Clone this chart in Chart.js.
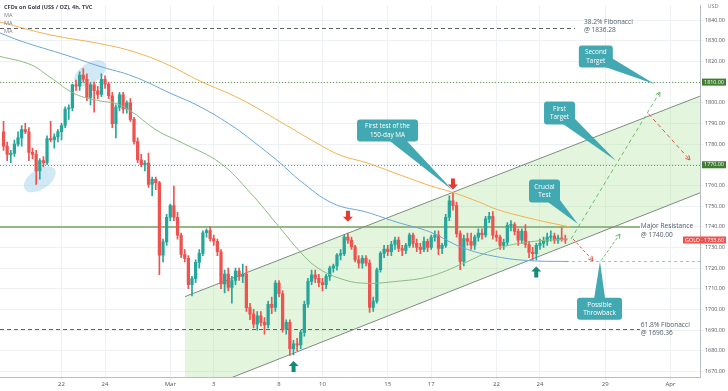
<!DOCTYPE html>
<html>
<head>
<meta charset="utf-8">
<script src="https://cdn.jsdelivr.net/npm/chart.js@4.4.0/dist/chart.umd.min.js"></script>
<style>
  html, body { margin: 0; padding: 0; background: #fff; }
  #wrap { width: 728px; height: 391px; }
</style>
</head>
<body>
<div id="wrap"><canvas id="chart" width="728" height="391"></canvas></div>
<script>
// x axis = trading days counted from Feb 22 (weekends skipped), 6 bars of 4h per day
const tickDays = [0, 2, 5, 7, 10, 12, 15, 17, 20, 22, 25, 28];
const tickLabels = ['22', '24', 'Mar', '3', '8', '10', '15', '17', '22', '24', '29', 'Apr'];
const priceTicks = [1670, 1680, 1690, 1700, 1710, 1720, 1730, 1740, 1750, 1760, 1770, 1780, 1790, 1800, 1810, 1820, 1830, 1840];
const xMin = -2.83, xMax = 29.36;
const yMin = 1667.3, yMax = 1847.2;

// 4h candles, first bar on Feb 17
const firstDay = -2.667;
const opens = [1786,1779,1775,1775.5,1780,1783,1787,1786,1776,1775,1767,1772,1771,1782.7,1782,1783.5,1786,1789,1797,1797.5,
  1808.7,1808,1813.4,1811.4,1802.6,1808.7,1805.8,1804,1811.4,1809,1803.4,1789.9,1797.9,1803.9,1797,1800,1792,1781.2,1772.4,1770,
  1770.8,1760.5,1762.9,1761.3,1726.3,1732.7,1744.6,1750.2,1744.6,1735.9,1726.6,1724.7,1712,1714.9,1722.8,1727.1,1737.1,1738.2,1734.3,1733,
  1727.9,1712.3,1717.1,1710.7,1714,1718.5,1716,1717,1700.9,1697.7,1692.9,1696.9,1693.7,1692.5,1702.5,1701,1712.8,1707.6,1690.5,1693.7,
  1681,1683.4,1682.8,1688.9,1702.5,1713.6,1716.8,1715,1713,1712,1716,1720,1721,1726.3,1727,1735,1733.5,1730.3,1724,1722.4,
  1724.7,1722.4,1701,1704,1719.2,1727.1,1729.2,1728,1731.4,1733.5,1729.5,1728.5,1731,1736,1732,1730,1729,1733,1730,1735,
  1736,1729.5,1731,1744.6,1752.6,1750.2,1736.7,1723.2,1734.3,1733,1731.1,1735,1737,1736,1743.8,1745.1,1735.9,1735,1731,1732.5,
  1740.7,1741,1737.8,1733.5,1737.8,1731.4,1727.6,1727,1731,1732,1733,1735,1735.5,1733.5,1734.5,1734];
const highs = [1791,1781,1777,1782,1786,1789,1790,1788,1778,1777,1773,1774,1784,1791,1785,1787,1790,1798,1799,1809,
  1811,1815,1816.5,1814,1809.5,1810,1808,1814,1813,1810,1805,1799,1805,1805,1801,1802,1793,1783,1775,1772,
  1775.6,1764,1764,1762,1734,1746,1751,1759.7,1747,1737,1729,1726,1716,1724,1729,1738,1739,1740,1736,1734,
  1729,1719,1720,1716,1720,1720,1722,1721,1703,1700,1699,1699,1696,1704,1706,1714,1714,1709,1695,1695,
  1685,1686,1690,1704,1715,1719,1719,1717,1715,1717,1721,1722,1727,1729,1736,1737,1735,1731,1726,1726,
  1726,1724,1706,1720,1728,1731,1731,1733,1735,1735,1731,1732,1737,1737,1734,1732,1735,1734,1736,1738,
  1738,1732,1746,1755,1756.5,1752,1738,1736,1737,1737,1736,1739,1739,1745,1747,1747.3,1738,1736,1734,1742,
  1743,1742,1739,1739,1741,1733,1730,1732,1734,1735,1737,1738,1737,1736,1739.5,1736];
const lows = [1777,1772,1771,1774,1779,1779,1785,1772,1773,1760.5,1763,1769,1770,1781,1778,1781,1782,1788,1792,1796,
  1806,1806,1810,1801,1799,1795.5,1802,1803,1807,1802,1788,1783,1796,1795,1795,1791,1780,1771,1769,1767,
  1759,1755,1758,1716.8,1723,1731,1743,1743,1734,1725,1723,1710,1706.5,1713,1720,1726,1735,1733,1731,1726,
  1710,1708,1709,1703,1712,1714,1713,1699,1695,1691,1690,1692,1688,1691,1698,1699,1706,1689,1688,1677.8,
  1678,1680,1681,1687,1701,1712,1713,1711,1709,1710,1714,1718,1719,1724,1726,1732,1729,1723,1720,1720,
  1721,1698.5,1699,1703,1718,1725,1726,1726,1729,1728,1726,1727,1730,1730,1728,1727,1728,1728,1729,1733,
  1726.5,1727,1730,1743,1748,1735,1719.2,1721,1731,1729,1729,1733,1734,1735,1742,1734,1733,1729,1729,1731,
  1738,1736,1731,1732,1730,1725,1724,1724,1729,1730,1731,1733,1732,1732,1733,1732];
const closes = [1779,1775,1775.5,1780,1783,1787,1786,1776,1775,1767,1772,1771,1782.7,1782,1783.5,1786,1789,1797,1797.5,1808.7,
  1808,1813.4,1811.4,1802.6,1808.7,1805.8,1804,1811.4,1809,1803.4,1789.9,1797.9,1803.9,1797,1800,1792,1781.2,1772.4,1770,1770.8,
  1760.5,1762.9,1761.3,1726.3,1732.7,1744.6,1750.2,1744.6,1735.9,1726.6,1724.7,1712,1714.9,1722.8,1727.1,1737.1,1738.2,1734.3,1733,1727.9,
  1712.3,1717.1,1710.7,1714,1718.5,1716,1717,1700.9,1697.7,1692.9,1696.9,1693.7,1692.5,1702.5,1701,1712.8,1707.6,1690.5,1693.7,1681,
  1683.4,1682.8,1688.9,1702.5,1713.6,1716.8,1715,1713,1712,1716,1720,1721,1726.3,1727,1735,1733.5,1730.3,1724,1722.4,1724.7,
  1722.4,1701,1704,1719.2,1727.1,1729.2,1728,1731.4,1733.5,1729.5,1728.5,1731,1736,1732,1730,1729,1733,1730,1735,1736,
  1729.5,1731,1744.6,1752.6,1750.2,1736.7,1723.2,1734.3,1733,1731.1,1735,1737,1736,1743.8,1745.1,1735.9,1735,1731,1732.5,1740.7,
  1741,1737.8,1733.5,1737.8,1731.4,1727.6,1727,1731,1732,1733,1735,1735.5,1733.5,1734.5,1734,1733.6];

// moving averages
const maOrangeDays = [-2.83,-0.53,1.77,3.29,4.85,6.37,8.21,10.05,11.75,12.8,14.05,15.43,16.94,18.0,19.24,20.02,21.54,23.38];
const maOrange = [1839.1,1832.9,1828.6,1824.8,1818.6,1810.5,1801.9,1790.9,1780.4,1774.7,1770.9,1765.6,1759.9,1756.6,1751.8,1748.4,1744.1,1739.9];
const maBlueDays = [-2.83,-1.91,0.25,1.77,3.29,4.99,6.37,7.89,8.8,10.05,10.97,12.48,14.05,15.43,16.94,18.46,20.02,21.54,23.29];
const maBlue = [1833.8,1830.0,1822.9,1817.6,1812.8,1804.7,1798.1,1788.5,1781.4,1770.9,1762.3,1751.3,1747.0,1742.2,1737.5,1729.8,1725.5,1723.6,1723.2];
const maGreenDays = [-2.83,-1.45,-0.53,0.62,1.77,2.55,3.29,4.39,5.59,7.29,8.67,10.05,10.97,11.75,12.8,13.86,15.43,16.94,18.46,20.02,21.54,23.29];
const maGreen = [1822.4,1818.6,1812.4,1804.3,1800.9,1799.5,1795.2,1786.6,1780.4,1770.9,1756.6,1739.4,1727.9,1720.3,1715.0,1712.7,1713.6,1716.0,1722.2,1729.4,1732.7,1734.1];

// ascending channel
const channelDays = [5.678, 29.356];
const channelTop = [1706.2, 1803.2];
const channelBottom = [1658.1, 1756.4];

// projected paths
const pathUpDays = [23.43, 27.52], pathUp = [1734.1, 1805.2];
const pathDownDays = [26.99, 28.9], pathDown = [1794.7, 1772.3];
const pathDipDays = [23.52, 24.44], pathDip = [1734.1, 1723.6];
const pathReboundDays = [24.81, 25.68], pathRebound = [1723.6, 1736.5];

// horizontal levels
const levelPrices = [1836.28, 1810, 1770, 1740, 1690.36, 1723.2];
const levelFrom = [xMin, xMin, xMin, xMin, xMin, 23.2];
const levelTo = [23.61, xMax, xMax, 26.6, 26.6, xMax];
const levelStyle = [
  { color: '#5d636a', width: 1, dash: [4, 3] },
  { color: '#6a9c4f', width: 1, dash: [1, 2] },
  { color: '#6a9c4f', width: 1, dash: [1, 2] },
  { color: '#93b886', width: 2, dash: [] },
  { color: '#5d636a', width: 1, dash: [4, 3] },
  { color: '#b5b9bf', width: 1, dash: [3, 3] }
];

const downArrows = [[13.17, 1742.4], [18.0, 1758.0]];
const upArrows = [[10.67, 1675.0], [21.83, 1720.8]];

const ellipses = [
  { day: -1.0, price: 1763.0, rx: 18, ry: 10, rot: -0.6 },
  { day: 1.31, price: 1814.3, rx: 18, ry: 10, rot: -0.6 }
];

const callouts = [
  { lines: ['First test of the', '150-day MA'], day: 14.99, price: 1786.6, w: 61, h: 22, tip: [18.0, 1757.5] },
  { lines: ['Second', 'Target'], day: 24.57, price: 1822.4, w: 34, h: 22, tip: [27.29, 1809.0] },
  { lines: ['First', 'Target'], day: 22.9, price: 1795.0, w: 31, h: 23, tip: [25.5, 1772.0] },
  { lines: ['Crucial', 'Test'], day: 22.21, price: 1757.3, w: 31, h: 23, tip: [23.75, 1741.3] },
  { lines: ['Possible', 'Throwback'], day: 24.74, price: 1700.3, w: 45, h: 22, tip: [24.76, 1723.2] }
];

const notes = [
  { lines: ['38.2% Fibonacci', '@ 1836.28'], day: 24.02, price: 1839.1 },
  { lines: ['Major Resistance', '@ 1740.00'], day: 26.64, price: 1740.3 },
  { lines: ['61.8% Fibonacci', '@ 1690.36'], day: 26.64, price: 1692.6 }
];

const axisTags = [
  { text: '1810.00', price: 1810, color: '#3f7d2f' },
  { text: '1770.00', price: 1770, color: '#3f7d2f' }
];
const lastPrice = 1733.6;

const upColor = '#26a69a', downColor = '#ef5350';
const candleDays = opens.map((_, i) => firstDay + i / 6);
const candleColors = opens.map((o, i) => closes[i] >= o ? upColor : downColor);
const FONT = "'Open Sans', 'DejaVu Sans', sans-serif";

const pts = (xs, ys) => xs.map((v, i) => ({ x: v, y: ys[i] }));
const lineSet = (data, color, extra) => Object.assign({
  type: 'line', data, borderColor: color, borderWidth: 1, pointRadius: 0, fill: false
}, extra || {});

function blockArrow(ctx, px, py, up, color) {
  const s = up ? 1 : -1;
  ctx.beginPath();
  ctx.moveTo(px, py);
  ctx.lineTo(px + 5, py + s * 5);
  ctx.lineTo(px + 2, py + s * 5);
  ctx.lineTo(px + 2, py + s * 11);
  ctx.lineTo(px - 2, py + s * 11);
  ctx.lineTo(px - 2, py + s * 5);
  ctx.lineTo(px - 5, py + s * 5);
  ctx.closePath();
  ctx.fillStyle = color;
  ctx.fill();
}

const overlay = {
  id: 'overlay',
  beforeDatasetsDraw(chart) {
    const { ctx, chartArea: a, scales: { x, y } } = chart;
    ctx.save();
    ctx.beginPath();
    ctx.rect(a.left, a.top, a.width, a.height);
    ctx.clip();
    ellipses.forEach(e => {
      ctx.beginPath();
      ctx.ellipse(x.getPixelForValue(e.day), y.getPixelForValue(e.price), e.rx, e.ry, e.rot, 0, Math.PI * 2);
      ctx.fillStyle = 'rgba(120, 192, 226, 0.35)';
      ctx.fill();
    });
    levelPrices.forEach((p, i) => {
      const st = levelStyle[i];
      const yy = Math.round(y.getPixelForValue(p)) + (st.width % 2 ? 0.5 : 0);
      ctx.beginPath();
      ctx.setLineDash(st.dash);
      ctx.lineWidth = st.width;
      ctx.strokeStyle = st.color;
      ctx.moveTo(x.getPixelForValue(levelFrom[i]), yy);
      ctx.lineTo(x.getPixelForValue(levelTo[i]), yy);
      ctx.stroke();
    });
    ctx.restore();
  },
  afterDatasetsDraw(chart) {
    const { ctx, scales: { x, y } } = chart;
    ctx.save();
    // arrow heads on the projected paths
    chart.data.datasets.forEach((ds, i) => {
      if (!ds.arrow) return;
      const el = chart.getDatasetMeta(i).data;
      const p1 = el[el.length - 2], p2 = el[el.length - 1];
      const ang = Math.atan2(p2.y - p1.y, p2.x - p1.x);
      ctx.beginPath();
      ctx.setLineDash([]);
      ctx.strokeStyle = ds.borderColor;
      ctx.lineWidth = 1;
      ctx.moveTo(p2.x - 5 * Math.cos(ang - 0.5), p2.y - 5 * Math.sin(ang - 0.5));
      ctx.lineTo(p2.x, p2.y);
      ctx.lineTo(p2.x - 5 * Math.cos(ang + 0.5), p2.y - 5 * Math.sin(ang + 0.5));
      ctx.stroke();
    });
    downArrows.forEach(([d, p]) => blockArrow(ctx, x.getPixelForValue(d), y.getPixelForValue(p), false, '#e53935'));
    upArrows.forEach(([d, p]) => blockArrow(ctx, x.getPixelForValue(d), y.getPixelForValue(p), true, '#168a78'));

    // notes
    ctx.font = '6.6px ' + FONT;
    ctx.fillStyle = '#4e5b68';
    ctx.textAlign = 'left';
    ctx.textBaseline = 'middle';
    notes.forEach(n => {
      const nx = x.getPixelForValue(n.day), ny = y.getPixelForValue(n.price);
      n.lines.forEach((t, k) => ctx.fillText(t, nx, ny + k * 8.5));
    });

    // callouts
    callouts.forEach(c => {
      const cx = x.getPixelForValue(c.day), cy = y.getPixelForValue(c.price);
      const tx = x.getPixelForValue(c.tip[0]), ty = y.getPixelForValue(c.tip[1]);
      const ang = Math.atan2(ty - cy, tx - cx);
      const nx = -Math.sin(ang), ny = Math.cos(ang);
      ctx.fillStyle = '#42a9b3';
      ctx.beginPath();
      ctx.moveTo(cx + nx * 7, cy + ny * 7);
      ctx.lineTo(tx, ty);
      ctx.lineTo(cx - nx * 7, cy - ny * 7);
      ctx.closePath();
      ctx.fill();
      ctx.beginPath();
      if (ctx.roundRect) ctx.roundRect(cx - c.w / 2, cy - c.h / 2, c.w, c.h, 3);
      else ctx.rect(cx - c.w / 2, cy - c.h / 2, c.w, c.h);
      ctx.fill();
      ctx.fillStyle = '#ffffff';
      ctx.font = '6.4px ' + FONT;
      ctx.textAlign = 'center';
      ctx.textBaseline = 'middle';
      ctx.fillText(c.lines[0], cx, cy - 4);
      ctx.fillText(c.lines[1], cx, cy + 4.5);
    });
    ctx.restore();
  },
  afterDraw(chart) {
    const { ctx, chartArea: a, scales: { y } } = chart;
    ctx.save();
    ctx.textBaseline = 'middle';
    // header
    ctx.textAlign = 'left';
    ctx.fillStyle = '#3c4047';
    ctx.font = 'bold 5.6px ' + FONT;
    ctx.fillText('CFDs on Gold (US$ / OZ), 4h, TVC', 4, 7);
    ctx.font = '5.6px ' + FONT;
    ctx.fillStyle = '#7a7e87';
    ['MA', 'MA', 'MA'].forEach((t, k) => ctx.fillText(t, 4, 15 + k * 8));
    ctx.textAlign = 'center';
    ctx.fillText('USD', a.right + 13, 6);
    // price tags on the axis
    ctx.font = '5.4px ' + FONT;
    axisTags.forEach(t => {
      const ty = y.getPixelForValue(t.price);
      ctx.fillStyle = t.color;
      ctx.fillRect(a.right + 2, ty - 3.5, 24, 7);
      ctx.fillStyle = '#fff';
      ctx.fillText(t.text, a.right + 14, ty);
    });
    const ly = y.getPixelForValue(lastPrice);
    ctx.fillStyle = '#ef5350';
    ctx.fillRect(a.right - 17, ly - 3.5, 43, 7);
    ctx.fillStyle = '#fff';
    ctx.fillText('GOLD \u00b7 ' + lastPrice.toFixed(2), a.right + 4.5, ly);
    ctx.restore();
  }
};

new Chart(document.getElementById('chart'), {
  type: 'bar',
  data: {
    datasets: [
      { type: 'bar', data: candleDays.map((d, i) => ({ x: d, y: [lows[i], highs[i]] })),
        backgroundColor: candleColors, barThickness: 1, grouped: false, order: 3 },
      { type: 'bar', data: candleDays.map((d, i) => ({ x: d, y: [opens[i], closes[i]] })),
        backgroundColor: candleColors, barThickness: 2.6, minBarLength: 1, grouped: false, order: 2 },
      lineSet(pts(channelDays, channelTop), '#7f8b80', { fill: '+1', backgroundColor: 'rgba(150, 222, 128, 0.27)', order: 10 }),
      lineSet(pts(channelDays, channelBottom), '#7f8b80', { order: 11 }),
      lineSet(pts(maOrangeDays, maOrange), '#f3b14f', { tension: 0.4, order: 1 }),
      lineSet(pts(maBlueDays, maBlue), '#6aa6d8', { tension: 0.4, order: 1 }),
      lineSet(pts(maGreenDays, maGreen), '#8dbb84', { tension: 0.4, order: 1 }),
      lineSet(pts(pathUpDays, pathUp), '#70b96f', { borderDash: [4, 3], arrow: true, order: 0 }),
      lineSet(pts(pathDownDays, pathDown), '#e0564d', { borderDash: [4, 3], arrow: true, order: 0 }),
      lineSet(pts(pathDipDays, pathDip), '#e0564d', { borderDash: [3, 2], arrow: true, order: 0 }),
      lineSet(pts(pathReboundDays, pathRebound), '#70b96f', { borderDash: [3, 2], arrow: true, order: 0 })
    ]
  },
  options: {
    responsive: false,
    devicePixelRatio: 1,
    animation: false,
    layout: { padding: 0 },
    plugins: {
      legend: { display: false },
      tooltip: { enabled: false },
      filler: { drawTime: 'beforeDatasetsDraw' }
    },
    scales: {
      x: {
        type: 'linear', min: xMin, max: xMax, offset: false,
        afterBuildTicks: s => { s.ticks = tickDays.map(v => ({ value: v })); },
        afterFit: s => { s.height = 14; },
        ticks: {
          autoSkip: false, maxRotation: 0, padding: 1, color: '#50555c',
          font: { size: 6, family: FONT },
          callback: v => tickLabels[tickDays.indexOf(v)]
        },
        grid: { color: '#eef1f4', tickLength: 3, offset: false },
        border: { color: '#b9bdc4' }
      },
      y: {
        position: 'right', min: yMin, max: yMax, beginAtZero: false,
        afterBuildTicks: s => { s.ticks = priceTicks.map(v => ({ value: v })); },
        afterFit: s => { s.width = 28; },
        ticks: {
          autoSkip: false, padding: 2, color: '#50555c',
          font: { size: 5.4, family: FONT },
          callback: v => v.toFixed(2)
        },
        grid: { color: '#eef1f4', tickLength: 3 },
        border: { color: '#b9bdc4' }
      }
    }
  },
  plugins: [overlay]
});
</script>
</body>
</html>
